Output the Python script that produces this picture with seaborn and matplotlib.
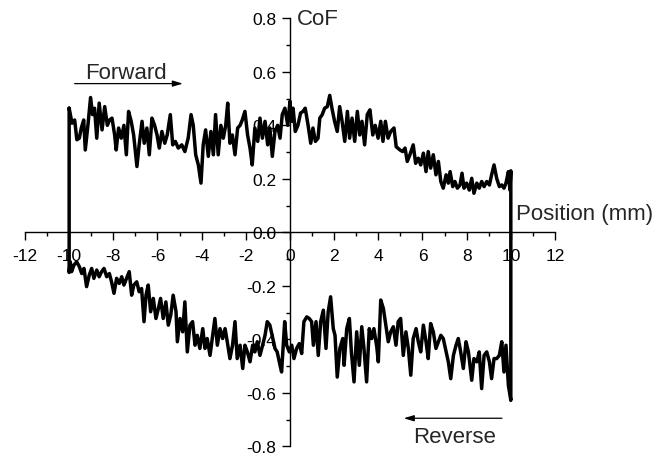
import numpy as np
import pandas as pd
import matplotlib
matplotlib.use("Agg")
import matplotlib.pyplot as plt
from matplotlib.ticker import MultipleLocator
import seaborn as sns

# Forward stroke: position (mm) and coefficient of friction
fwd_pos = [-10.00, -9.87, -9.75, -9.65, -9.54, -9.45, -9.34, -9.27, -9.15, -9.03,
           -8.94, -8.85, -8.75, -8.64, -8.51, -8.39, -8.27, -8.17, -8.06, -7.94,
           -7.87, -7.76, -7.64, -7.52, -7.41, -7.31, -7.19, -7.08, -6.93, -6.83,
           -6.70, -6.60, -6.48, -6.37, -6.25, -6.13, -6.02, -5.92, -5.80, -5.67,
           -5.56, -5.42, -5.31, -5.19, -5.06, -4.90, -4.76, -4.61, -4.48, -4.38,
           -4.27, -4.15, -4.03, -3.93, -3.82, -3.70, -3.58, -3.47, -3.37, -3.25,
           -3.13, -3.02, -2.91, -2.82, -2.72, -2.61, -2.49, -2.37, -2.26, -2.16,
           -2.04, -1.92, -1.81, -1.71, -1.59, -1.46, -1.36, -1.25, -1.13, -1.01,
           -0.91, -0.80, -0.68, -0.56, -0.45, -0.35, -0.23, -0.10, 0.00, 0.07,
           0.14, 0.24, 0.36, 0.48, 0.59, 0.69, 0.82, 0.94, 1.04, 1.15,
           1.27, 1.35, 1.46, 1.57, 1.69, 1.80, 1.90, 2.02, 2.14, 2.25,
           2.36, 2.48, 2.60, 2.70, 2.81, 2.93, 3.05, 3.16, 3.26, 3.38,
           3.50, 3.62, 3.75, 3.86, 3.99, 4.11, 4.21, 4.32, 4.44, 4.56,
           4.71, 4.81, 4.98, 5.10, 5.21, 5.31, 5.43, 5.58, 5.69, 5.81,
           5.92, 6.04, 6.16, 6.26, 6.37, 6.49, 6.61, 6.72, 6.83, 6.94,
           7.07, 7.17, 7.25, 7.37, 7.47, 7.58, 7.70, 7.79, 7.88, 8.00,
           8.12, 8.23, 8.33, 8.46, 8.57, 8.68, 8.79, 8.91, 9.03, 9.13,
           9.24, 9.36, 9.48, 9.59, 9.69, 9.78, 9.89, 9.96, 10.00]
fwd_cof = [0.464, 0.408, 0.420, 0.346, 0.352, 0.390, 0.420, 0.308, 0.400, 0.504,
           0.440, 0.464, 0.352, 0.483, 0.383, 0.470, 0.400, 0.420, 0.427, 0.364,
           0.308, 0.390, 0.352, 0.400, 0.290, 0.452, 0.415, 0.364, 0.246, 0.327,
           0.415, 0.333, 0.390, 0.290, 0.427, 0.400, 0.364, 0.315, 0.377, 0.333,
           0.364, 0.440, 0.327, 0.340, 0.315, 0.327, 0.302, 0.352, 0.440, 0.400,
           0.290, 0.252, 0.184, 0.327, 0.383, 0.284, 0.377, 0.290, 0.440, 0.290,
           0.400, 0.352, 0.400, 0.483, 0.333, 0.364, 0.290, 0.390, 0.400, 0.420,
           0.452, 0.364, 0.315, 0.252, 0.390, 0.340, 0.427, 0.352, 0.415, 0.327,
           0.390, 0.284, 0.377, 0.400, 0.352, 0.440, 0.464, 0.400, 0.490, 0.415,
           0.464, 0.377, 0.400, 0.446, 0.452, 0.464, 0.400, 0.333, 0.390, 0.340,
           0.352, 0.427, 0.440, 0.464, 0.470, 0.512, 0.464, 0.415, 0.377, 0.470,
           0.415, 0.340, 0.452, 0.352, 0.427, 0.340, 0.452, 0.364, 0.415, 0.327,
           0.440, 0.458, 0.364, 0.400, 0.352, 0.415, 0.340, 0.415, 0.352, 0.377,
           0.390, 0.320, 0.308, 0.302, 0.315, 0.265, 0.290, 0.327, 0.258, 0.277,
           0.252, 0.296, 0.227, 0.302, 0.240, 0.290, 0.215, 0.265, 0.190, 0.165,
           0.215, 0.184, 0.227, 0.171, 0.190, 0.165, 0.177, 0.221, 0.165, 0.184,
           0.158, 0.202, 0.146, 0.184, 0.165, 0.190, 0.171, 0.190, 0.177, 0.215,
           0.252, 0.202, 0.171, 0.177, 0.165, 0.184, 0.227, 0.158, 0.230]

# Reverse stroke, listed from -10 mm to +10 mm
rev_pos = [-10.00, -9.95, -9.89, -9.78, -9.66, -9.54, -9.43, -9.33, -9.21, -9.09,
           -8.98, -8.88, -8.75, -8.64, -8.53, -8.42, -8.30, -8.18, -8.08, -7.97,
           -7.85, -7.73, -7.62, -7.52, -7.40, -7.28, -7.17, -7.07, -6.94, -6.83,
           -6.72, -6.61, -6.52, -6.42, -6.31, -6.19, -6.07, -5.96, -5.86, -5.74,
           -5.62, -5.51, -5.40, -5.29, -5.16, -5.10, -4.98, -4.86, -4.76, -4.65,
           -4.53, -4.41, -4.30, -4.20, -4.08, -3.95, -3.85, -3.75, -3.62, -3.50,
           -3.40, -3.29, -3.17, -3.05, -2.94, -2.84, -2.72, -2.60, -2.49, -2.39,
           -2.26, -2.14, -2.04, -1.93, -1.81, -1.69, -1.59, -1.48, -1.36, -1.24,
           -1.13, -1.03, -0.91, -0.78, -0.68, -0.58, -0.45, -0.38, -0.24, -0.15,
           -0.03, 0.08, 0.18, 0.30, 0.42, 0.53, 0.63, 0.76, 0.87, 0.98,
           1.06, 1.18, 1.28, 1.39, 1.51, 1.63, 1.73, 1.84, 1.96, 2.04,
           2.14, 2.26, 2.39, 2.45, 2.57, 2.69, 2.78, 2.90, 3.02, 3.14,
           3.25, 3.35, 3.47, 3.59, 3.70, 3.80, 3.93, 4.00, 4.11, 4.23,
           4.35, 4.45, 4.56, 4.68, 4.80, 4.90, 5.01, 5.13, 5.25, 5.36,
           5.47, 5.58, 5.71, 5.81, 5.92, 6.04, 6.16, 6.26, 6.37, 6.49,
           6.61, 6.72, 6.83, 6.94, 7.07, 7.17, 7.28, 7.40, 7.52, 7.62,
           7.73, 7.85, 7.97, 8.08, 8.23, 8.33, 8.46, 8.57, 8.68, 8.79,
           8.91, 9.03, 9.13, 9.24, 9.36, 9.48, 9.59, 9.69, 9.78, 9.89,
           10.00]
rev_cof = [-0.150, -0.110, -0.147, -0.122, -0.110, -0.128, -0.154, -0.135, -0.203, -0.160,
           -0.135, -0.172, -0.141, -0.166, -0.147, -0.135, -0.166, -0.154, -0.185, -0.228,
           -0.172, -0.191, -0.166, -0.197, -0.172, -0.147, -0.235, -0.197, -0.185, -0.222,
           -0.210, -0.334, -0.235, -0.197, -0.297, -0.247, -0.322, -0.285, -0.247, -0.322,
           -0.260, -0.347, -0.310, -0.235, -0.297, -0.409, -0.322, -0.372, -0.260, -0.447,
           -0.347, -0.334, -0.422, -0.385, -0.434, -0.360, -0.434, -0.397, -0.460, -0.385,
           -0.322, -0.422, -0.360, -0.397, -0.360, -0.409, -0.472, -0.422, -0.334, -0.472,
           -0.422, -0.509, -0.422, -0.447, -0.484, -0.422, -0.447, -0.409, -0.460, -0.422,
           -0.385, -0.334, -0.347, -0.397, -0.434, -0.447, -0.497, -0.522, -0.334, -0.422,
           -0.447, -0.422, -0.472, -0.434, -0.416, -0.453, -0.334, -0.316, -0.322, -0.334,
           -0.422, -0.334, -0.460, -0.334, -0.291, -0.434, -0.297, -0.241, -0.360, -0.385,
           -0.541, -0.434, -0.397, -0.497, -0.360, -0.322, -0.447, -0.559, -0.372, -0.497,
           -0.353, -0.434, -0.559, -0.360, -0.397, -0.360, -0.428, -0.484, -0.253, -0.285,
           -0.353, -0.409, -0.372, -0.353, -0.422, -0.334, -0.322, -0.460, -0.372, -0.434,
           -0.534, -0.397, -0.360, -0.409, -0.447, -0.347, -0.409, -0.472, -0.341, -0.372,
           -0.434, -0.409, -0.385, -0.397, -0.447, -0.484, -0.547, -0.460, -0.422, -0.397,
           -0.447, -0.509, -0.409, -0.447, -0.553, -0.472, -0.484, -0.447, -0.584, -0.460,
           -0.447, -0.484, -0.547, -0.472, -0.472, -0.460, -0.409, -0.522, -0.422, -0.572,
           -0.628]

x_ticks = [-12, -10, -8, -6, -4, -2, 0, 2, 4, 6, 8, 10, 12]
y_ticks = [-0.8, -0.6, -0.4, -0.2, 0.0, 0.2, 0.4, 0.6, 0.8]

# One closed friction loop: forward stroke, reverse stroke back to -10 mm,
# then the jump at -10 mm that joins the two strokes
loop_pos = fwd_pos + rev_pos[::-1] + fwd_pos[:1]
loop_cof = fwd_cof + rev_cof[::-1] + fwd_cof[:1]
loop = pd.DataFrame({"pos": loop_pos, "cof": loop_cof})

sns.set_style("ticks")
plt.rcParams["font.family"] = ["Liberation Sans", "DejaVu Sans"]

fig = plt.figure(figsize=(6.54, 4.56), dpi=100)
ax = fig.add_axes([0.0382, 0.0190, 0.8104, 0.9386])

sns.lineplot(data=loop, x="pos", y="cof", sort=False, estimator=None,
             color="black", lw=2.5, ax=ax)

ax.set_xlim(-12, 12)
ax.set_ylim(-0.8, 0.8)
ax.set_xticks(x_ticks)
ax.set_yticks(y_ticks)
ax.set_xticklabels([f"{v:d}" for v in x_ticks])
ax.set_yticklabels([f"{v:.1f}" for v in y_ticks])
ax.xaxis.set_minor_locator(MultipleLocator(1))
ax.yaxis.set_minor_locator(MultipleLocator(0.1))

# Axes crossing at the origin
ax.spines["left"].set_position(("data", 0))
ax.spines["bottom"].set_position(("data", 0))
ax.spines["right"].set_visible(False)
ax.spines["top"].set_visible(False)
for s in ("left", "bottom"):
    ax.spines[s].set_linewidth(1.0)
    ax.spines[s].set_color("black")

ax.tick_params(axis="both", which="major", direction="out", length=5.5, width=1.0,
               labelsize=12.5, colors="black")
ax.tick_params(axis="x", which="major", pad=6)
ax.tick_params(axis="y", which="major", pad=4.5)
ax.tick_params(axis="both", which="minor", direction="out", length=3, width=1.0,
               colors="black")
ax.set_xlabel("")
ax.set_ylabel("")
ax.patch.set_alpha(0)

ax.text(0.3, 0.8, "CoF", ha="left", va="center", fontsize=16)
ax.text(10.25, 0.072, "Position (mm)", ha="left", va="center", fontsize=16,
        clip_on=False)

# Stroke direction labels
ax.text(-7.45, 0.596, "Forward", ha="center", va="center", fontsize=16)
ax.annotate("", xy=(-4.85, 0.556), xytext=(-9.75, 0.556),
            arrowprops=dict(arrowstyle="-|>,head_length=0.6,head_width=0.18",
                            color="black", lw=0.9, shrinkA=0, shrinkB=0))
ax.text(7.45, -0.765, "Reverse", ha="center", va="center", fontsize=16)
ax.annotate("", xy=(5.15, -0.695), xytext=(9.6, -0.695),
            arrowprops=dict(arrowstyle="-|>,head_length=0.6,head_width=0.18",
                            color="black", lw=0.9, shrinkA=0, shrinkB=0))

fig.savefig("out.png", dpi=100)
